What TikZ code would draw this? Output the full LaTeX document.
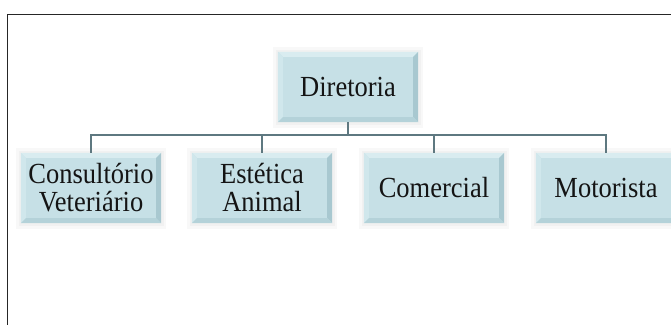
\documentclass[tikz,border=0pt]{standalone}
\usepackage{fontspec}
\setmainfont{Liberation Serif}
\definecolor{boxfill}{HTML}{C6E0E6}
\definecolor{bevlight}{HTML}{D9ECF0}
\definecolor{bevlight2}{HTML}{D0E7EC}
\definecolor{bevdark}{HTML}{A8C8D0}
\definecolor{bevdark2}{HTML}{B4D2D9}
\definecolor{linkcol}{HTML}{5E7880}
\definecolor{txtcol}{HTML}{141414}
\tikzset{
  orgbox/.style={rectangle, fill=boxfill, minimum width=140pt, minimum height=70pt,
    inner sep=0pt, align=center, text=txtcol,
    font=\fontsize{26.5pt}{24.5pt}\selectfont},
  label text/.style={orgbox, fill=none, yshift=-3.5pt},
  halo/.style={fill=black!35, opacity=0.08},
  conn/.style={draw=linkcol, line width=2pt},
  frame/.style={draw=black!85, line width=1.6pt}
}
% tall, slightly narrow label text
\newcommand\lbl[1]{\scalebox{1}[1.1]{\begin{tabular}{@{}c@{}}#1\end{tabular}}}
% soft halo behind a box
\newcommand\boxhalo[2]{%
  \fill[halo] ([shift={(-5pt,5pt)}]#1) rectangle ([shift={(5pt,-6pt)}]#2);
  \fill[halo] ([shift={(-2pt,2pt)}]#1) rectangle ([shift={(3pt,-3pt)}]#2);
}
% bevelled edges of a box
\newcommand\bevelize[1]{%
  \fill[bevlight] (#1.north west) -- (#1.north east) -- ([shift={(-5pt,-5pt)}]#1.north east) -- ([shift={(5pt,-5pt)}]#1.north west) -- cycle;
  \fill[bevlight2] (#1.north west) -- (#1.south west) -- ([shift={(5pt,5pt)}]#1.south west) -- ([shift={(5pt,-5pt)}]#1.north west) -- cycle;
  \fill[bevdark] (#1.north east) -- (#1.south east) -- ([shift={(-5pt,5pt)}]#1.south east) -- ([shift={(-5pt,-5pt)}]#1.north east) -- cycle;
  \fill[bevdark2] (#1.south west) -- (#1.south east) -- ([shift={(-5pt,5pt)}]#1.south east) -- ([shift={(5pt,5pt)}]#1.south west) -- cycle;
}
\begin{document}
\begin{tikzpicture}[x=1pt, y=-1pt]
  \useasboundingbox (0,0) rectangle (671,324);
  \fill[white] (0,0) rectangle (671,324);
  \begin{scope}
    \clip (0,0) rectangle (671,324);
    \draw[frame] (7.5,14.5) rectangle (700,360);

    % halos
    \boxhalo{278,52}{418,122}
    \boxhalo{21,153}{161,223}
    \boxhalo{192,153}{332,223}
    \boxhalo{364,153}{504,223}
    \boxhalo{536,153}{676,223}

    % junction point of the connectors
    \coordinate (bus) at (348,135);

    % boxes
    \node[orgbox] (dir) at (348,87) {};
    \node[orgbox] (cv) at (91,188) {};
    \node[orgbox] (ea) at (262,188) {};
    \node[orgbox] (com) at (434,188) {};
    \node[orgbox] (mot) at (606,188) {};
    \bevelize{dir}
    \bevelize{cv}
    \bevelize{ea}
    \bevelize{com}
    \bevelize{mot}

    \draw[conn] (dir.south) -- (bus);
    \foreach \c in {cv,ea,com,mot}
      \draw[conn] (bus) -| (\c.north);

    % labels
    \node[label text] at (dir) {\lbl{Diretoria}};
    \node[label text] at (cv) {\lbl{Consultório\\Veteriário}};
    \node[label text] at (ea) {\lbl{Estética\\Animal}};
    \node[label text] at (com) {\lbl{Comercial}};
    \node[label text] at (mot) {\lbl{Motorista}};
  \end{scope}
\end{tikzpicture}
\end{document}
